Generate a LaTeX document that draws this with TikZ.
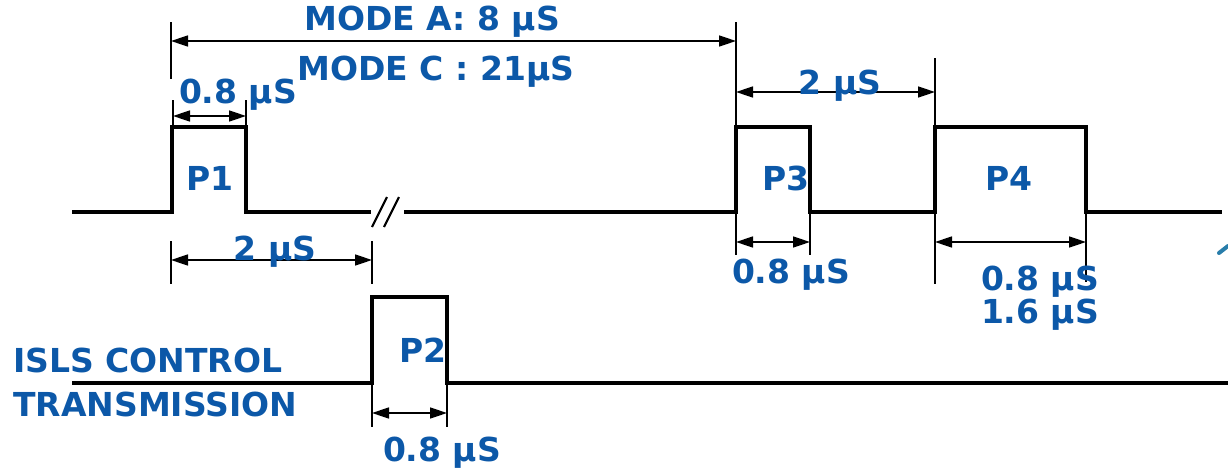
\documentclass[tikz,border=0pt]{standalone}
\usepackage{fontspec}
\setmainfont{DejaVu Sans}
\usetikzlibrary{arrows.meta}
\definecolor{lblue}{RGB}{12,88,168}
\definecolor{mblue}{RGB}{40,125,170}
\begin{document}
\begin{tikzpicture}[x=1pt,y=-1pt,
 sig/.style={line width=3.5pt, line join=miter},
 ext/.style={line width=1.6pt},
 brk/.style={line width=2.2pt},
 dim/.style={line width=1.6pt, {Triangle[length=17pt,width=11pt]}-{Triangle[length=17pt,width=11pt]}},
 lbl/.style={text=lblue, font=\fontsize{33}{35}\selectfont\bfseries, inner sep=0pt}]
\useasboundingbox (0,0) rectangle (1228,474);
% top waveform
\draw[sig] (72,212) -- (172,212) -- (172,127) -- (246,127) -- (246,212) -- (371,212);
\draw[sig] (404,212) -- (736,212) -- (736,127) -- (810,127) -- (810,212) -- (935,212) -- (935,127) -- (1086,127) -- (1086,212) -- (1222,212);
\draw[brk] (372,227) -- (387,197);
\draw[brk] (384,227) -- (399,197);
% bottom waveform
\draw[sig] (72,383) -- (372,383) -- (372,297) -- (447,297) -- (447,383) -- (1228,383);
% extension lines
\draw[ext] (171,22) -- (171,79);
\draw[ext] (736,22) -- (736,127);
\draw[ext] (935,58) -- (935,127);
\draw[ext] (173,100) -- (173,127);
\draw[ext] (246,100) -- (246,127);
\draw[ext] (171,241) -- (171,284);
\draw[ext] (372,241) -- (372,284);
\draw[ext] (736,212) -- (736,255);
\draw[ext] (810,212) -- (810,255);
\draw[ext] (935,212) -- (935,284);
\draw[ext] (1086,212) -- (1086,282);
\draw[ext] (372,383) -- (372,427);
\draw[ext] (447,383) -- (447,427);
% dimension anchors
\coordinate (mA1) at (171,41); \coordinate (mA2) at (736,41);
\coordinate (d21) at (736,92); \coordinate (d22) at (935,92);
\coordinate (p1a) at (173,116); \coordinate (p1b) at (246,116);
\coordinate (d11) at (171,260); \coordinate (d12) at (372,260);
\coordinate (p3a) at (736,242); \coordinate (p3b) at (810,242);
\coordinate (p4a) at (935,242); \coordinate (p4b) at (1086,242);
\coordinate (p2a) at (372,413); \coordinate (p2b) at (447,413);
\draw[dim] (mA1) -- (mA2);
\draw[dim] (d21) -- (d22);
\draw[dim] (p1a) -- (p1b);
\draw[dim] (d11) -- (d12);
\draw[dim] (p3a) -- (p3b);
\draw[dim] (p4a) -- (p4b);
\draw[dim] (p2a) -- (p2b);
% labels
\node[lbl] (modeA) at (432,22) {MODE A: 8 µS};
\node[lbl] (modeC) at (436,72) {MODE C : 21µS};
\node[lbl] (t08a) at (238,95) {0.8 µS};
\node[lbl] (t2a) at (840,86) {2 µS};
\node[lbl] (P1) at (210,178) {P1};
\node[lbl] (P3) at (786,178) {P3};
\node[lbl] (P4) at (1009,178) {P4};
\node[lbl] (t2b) at (275,252) {2 µS};
\node[lbl] (t08c) at (791,275) {0.8 µS};
\node[lbl] (t08d) at (1040,282) {0.8 µS};
\node[lbl] (t16) at (1040,315) {1.6 µS};
\node[lbl] (P2) at (423,350) {P2};
\node[lbl, anchor=west] (isls) at (13,360) {ISLS CONTROL};
\node[lbl, anchor=west] (trans) at (13,404) {TRANSMISSION};
\node[lbl] (t08b) at (442,453) {0.8 µS};
\draw[mblue, line width=4pt, line cap=round] (1219,253) -- (1228,246);
\end{tikzpicture}
\end{document}
